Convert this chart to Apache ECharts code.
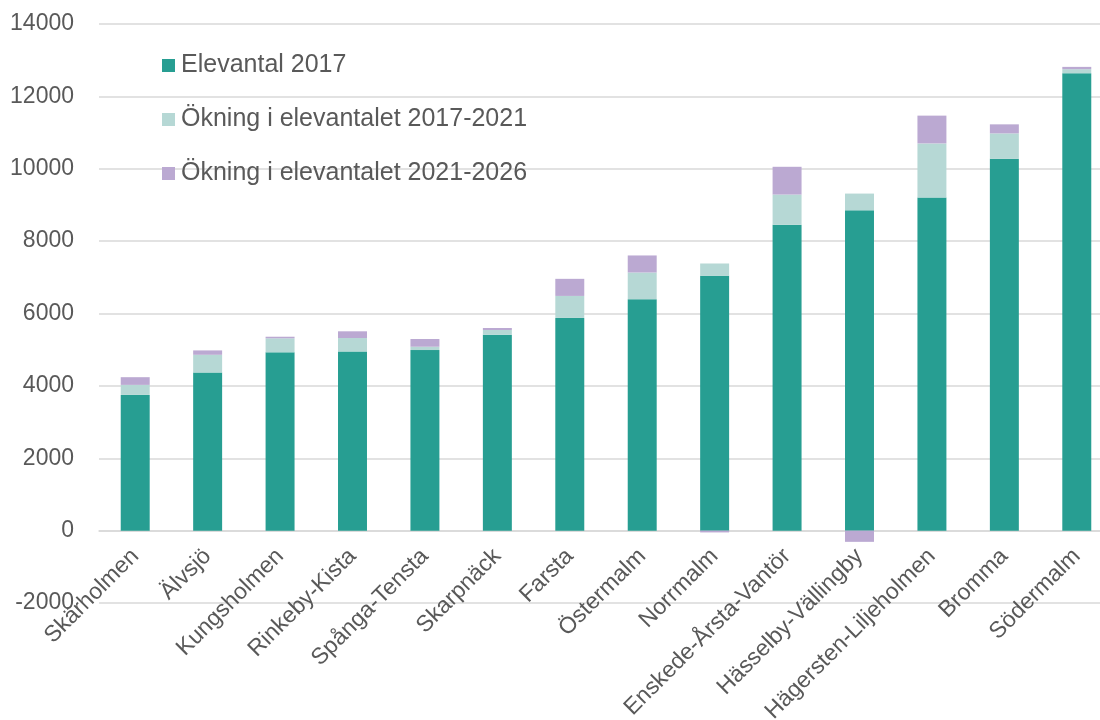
<!DOCTYPE html>
<html><head><meta charset="utf-8">
<script src="https://cdn.jsdelivr.net/npm/echarts@6/dist/echarts.min.js"></script>
<style>html,body{margin:0;padding:0;background:#fff}#c{width:1100px;height:720px}</style>
</head><body><div id="c"></div>
<script>
const categories = ["Skärholmen","Älvsjö","Kungsholmen","Rinkeby-Kista","Spånga-Tensta","Skarpnäck","Farsta","Östermalm","Norrmalm","Enskede-Årsta-Vantör","Hässelby-Vällingby","Hägersten-Liljeholmen","Bromma","Södermalm"];
const elevantal2017 = [3750,4370,4926,4953,4990,5414,5877,6395,7041,8455,8851,9203,10276,12640];
const okning2017_2021 = [277,489,388,369,92,130,609,738,341,831,463,1497,701,111];
const okning2021_2026 = [213,121,44,186,213,56,472,471,-50,768,-310,768,250,64];
const seriesNames = ["Elevantal 2017","Ökning i elevantalet 2017-2021","Ökning i elevantalet 2021-2026"];
const yTicks = {min:-2000,max:14000,interval:2000};

const font = "Arial, 'Liberation Sans', sans-serif";
const chart = echarts.init(document.getElementById('c'));
const colors = ['#279e92','#b6d8d5','#bba9d2'];
const gridTop = 24, gridHeight = 579;
const zeroOffset = -gridHeight * (0 - yTicks.min) / (yTicks.max - yTicks.min);
const mk = (name, data, i) => ({
  name, type:'bar', stack:'s', data, barWidth:'40%',
  itemStyle:{color:colors[i]}
});
chart.setOption({
  animation:false,
  textStyle:{fontFamily:font},
  grid:{left:99, top:gridTop, right:-13, height:gridHeight, containLabel:false, outerBoundsMode:'none'},
  legend:{
    orient:'vertical', left:157, top:48, itemGap:29,
    itemWidth:13, itemHeight:13, icon:'rect',
    textStyle:{fontSize:25, color:'#595959', fontFamily:font, padding:[0,0,0,1]},
    data:seriesNames
  },
  xAxis:{
    type:'category', data:categories, offset:zeroOffset,
    axisLine:{show:true, onZero:false, lineStyle:{color:'#d9d9d9', width:1.5}},
    axisTick:{show:false},
    axisLabel:{rotate:45, fontSize:23, color:'#595959', fontFamily:font, interval:0, margin:22}
  },
  yAxis:{
    type:'value', min:yTicks.min, max:yTicks.max, interval:yTicks.interval,
    axisLine:{show:false}, axisTick:{show:false},
    axisLabel:{fontSize:23, color:'#595959', fontFamily:font, margin:25, formatter:v=>String(v)},
    splitLine:{lineStyle:{color:'#d9d9d9', width:1.5}}
  },
  series:[
    mk(seriesNames[0], elevantal2017, 0),
    mk(seriesNames[1], okning2017_2021, 1),
    mk(seriesNames[2], okning2021_2026, 2)
  ]
});
</script></body></html>
